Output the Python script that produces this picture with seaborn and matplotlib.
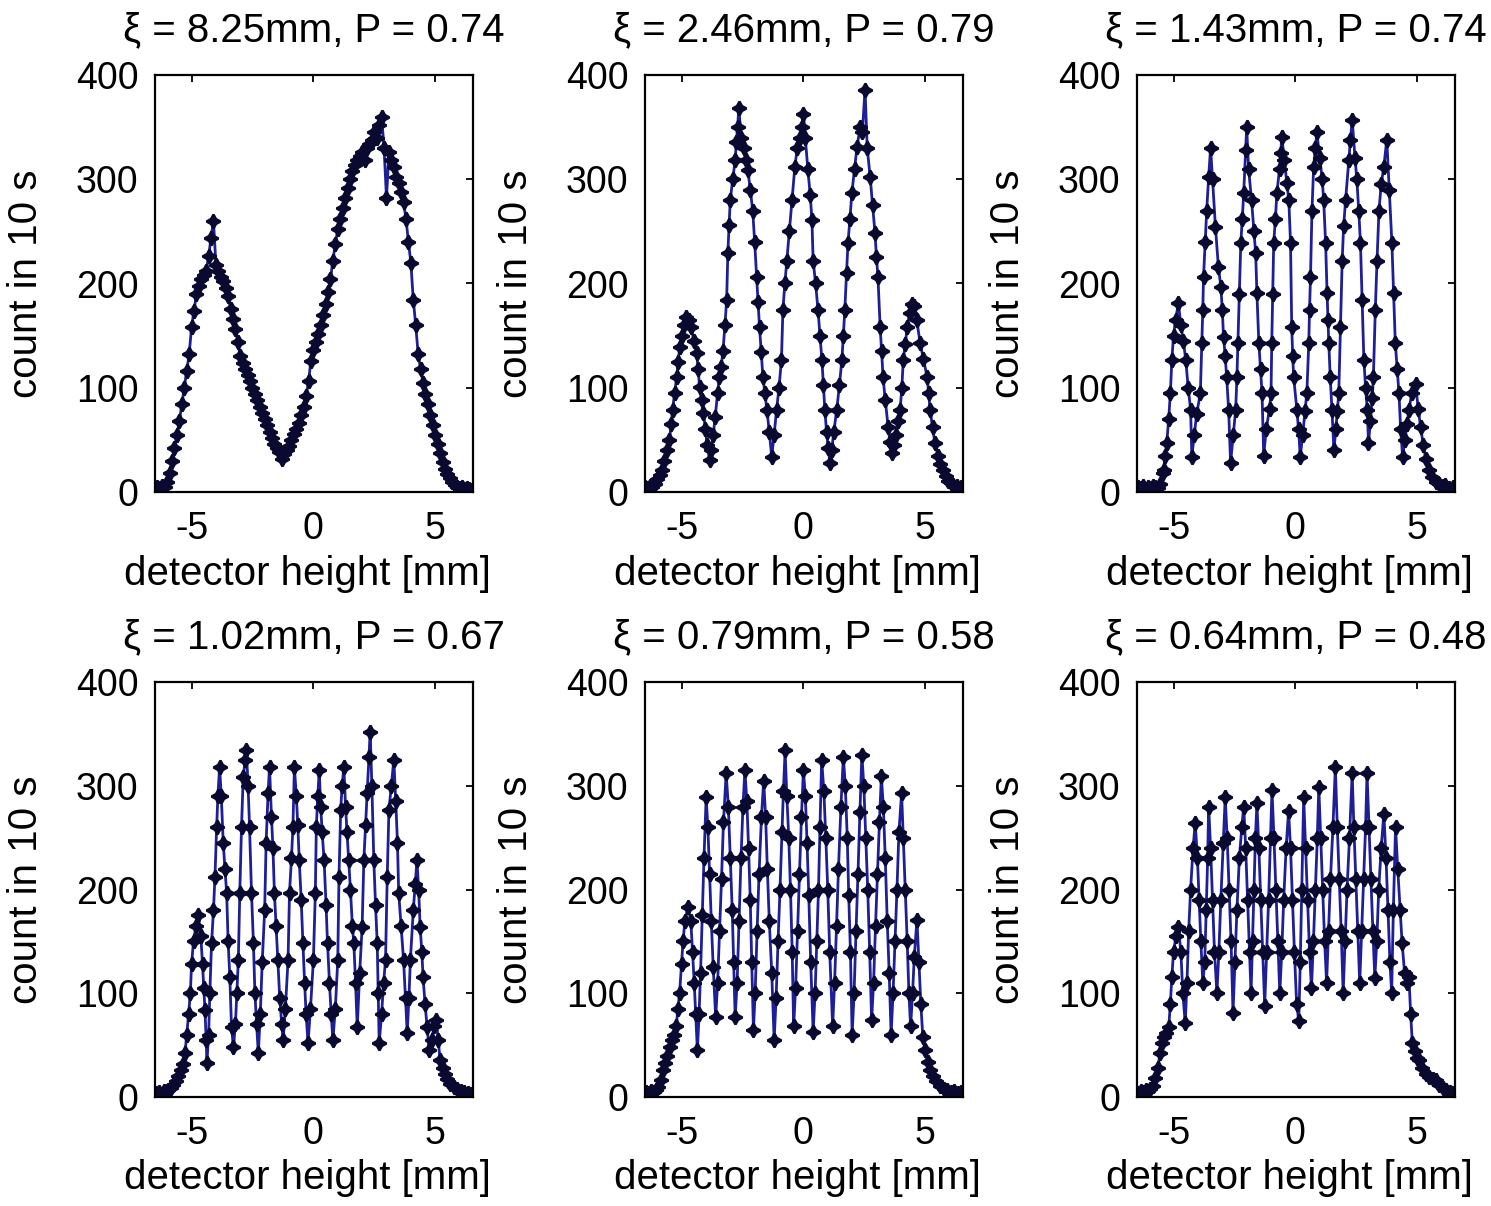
import matplotlib
matplotlib.use("Agg")
import matplotlib.pyplot as plt
import seaborn as sns

# Interference scans: detector height [mm] vs counts in 10 s
titles = [
    "ξ = 8.25mm, P = 0.74",
    "ξ = 2.46mm, P = 0.79",
    "ξ = 1.43mm, P = 0.74",
    "ξ = 1.02mm, P = 0.67",
    "ξ = 0.79mm, P = 0.58",
    "ξ = 0.64mm, P = 0.48",
]

x_p1 = [-6.40, -6.30, -6.20, -6.10, -6.00, -5.90, -5.80, -5.70, -5.60, -5.50, -5.40, -5.30, -5.20, -5.10,
        -5.00, -4.90, -4.80, -4.70, -4.60, -4.50, -4.40, -4.30, -4.20, -4.10, -4.00, -3.90, -3.80, -3.70,
        -3.60, -3.50, -3.40, -3.30, -3.20, -3.10, -3.00, -2.90, -2.80, -2.70, -2.60, -2.50, -2.40, -2.30,
        -2.20, -2.10, -2.00, -1.90, -1.80, -1.70, -1.60, -1.50, -1.40, -1.30, -1.20, -1.10, -1.00, -0.90,
        -0.80, -0.70, -0.60, -0.50, -0.40, -0.30, -0.20, -0.10, 0.00, 0.10, 0.20, 0.30, 0.40, 0.50,
        0.60, 0.70, 0.80, 0.90, 1.00, 1.10, 1.20, 1.30, 1.40, 1.50, 1.60, 1.70, 1.80, 1.90,
        2.00, 2.10, 2.20, 2.30, 2.40, 2.50, 2.60, 2.70, 2.80, 2.90, 3.00, 3.10, 3.20, 3.30,
        3.40, 3.50, 3.60, 3.70, 3.80, 3.90, 4.00, 4.10, 4.20, 4.30, 4.40, 4.50, 4.60, 4.70,
        4.80, 4.90, 5.00, 5.10, 5.20, 5.30, 5.40, 5.50, 5.60, 5.70, 5.80, 5.90, 6.00, 6.10,
        6.20, 6.30, 6.40, 6.50]
y_p1 = [5, 4, 6, 5, 10, 18, 30, 42, 55, 68, 84, 100, 116, 132,
        158, 174, 190, 198, 204, 208, 212, 226, 244, 260, 218, 212, 206, 202,
        196, 188, 176, 166, 156, 144, 130, 124, 118, 112, 106, 100, 94, 88,
        82, 76, 70, 64, 58, 52, 46, 42, 38, 32, 36, 40, 44, 50,
        56, 60, 66, 74, 82, 92, 106, 126, 136, 144, 152, 160, 170, 180,
        192, 204, 222, 238, 252, 262, 272, 282, 292, 300, 308, 314, 318, 322,
        326, 318, 330, 334, 338, 345, 340, 352, 360, 330, 282, 326, 318, 312,
        302, 296, 288, 278, 262, 240, 220, 184, 160, 132, 118, 105, 94, 84,
        74, 64, 55, 46, 37, 29, 22, 17, 13, 10, 7, 5, 4, 5,
        3, 4, 3, 2]

x_p2 = [-6.50, -6.40, -6.30, -6.20, -6.10, -6.00, -5.90, -5.80, -5.70, -5.60, -5.50, -5.42, -5.37, -5.28,
        -5.20, -5.14, -5.08, -5.00, -4.90, -4.80, -4.70, -4.60, -4.50, -4.38, -4.32, -4.26, -4.18, -4.10,
        -4.02, -3.95, -3.85, -3.78, -3.70, -3.62, -3.52, -3.45, -3.38, -3.30, -3.22, -3.15, -3.10, -3.05,
        -3.00, -2.90, -2.80, -2.75, -2.70, -2.65, -2.55, -2.45, -2.35, -2.28, -2.18, -2.08, -2.00, -1.92,
        -1.86, -1.80, -1.73, -1.66, -1.58, -1.50, -1.40, -1.30, -1.20, -1.10, -1.00, -0.90, -0.84, -0.76,
        -0.68, -0.58, -0.47, -0.35, -0.25, -0.15, -0.06, 0.00, 0.08, 0.18, 0.28, 0.35, 0.40, 0.50,
        0.60, 0.68, 0.76, 0.82, 0.88, 0.95, 1.02, 1.09, 1.16, 1.25, 1.37, 1.48, 1.58, 1.64,
        1.70, 1.77, 1.83, 1.91, 1.99, 2.10, 2.20, 2.33, 2.42, 2.53, 2.62, 2.74, 2.84, 2.94,
        3.00, 3.06, 3.15, 3.21, 3.27, 3.36, 3.48, 3.56, 3.64, 3.72, 3.80, 3.90, 3.97, 4.04,
        4.10, 4.18, 4.26, 4.36, 4.46, 4.55, 4.65, 4.79, 4.92, 5.08, 5.14, 5.20, 5.30, 5.40,
        5.52, 5.62, 5.74, 5.85, 5.95, 6.05, 6.15, 6.32, 6.45]
y_p2 = [5, 4, 6, 5, 8, 12, 16, 21, 30, 40, 50, 65, 79, 95,
        110, 125, 139, 150, 160, 168, 165, 158, 145, 133, 118, 101, 88, 76,
        60, 45, 31, 40, 55, 72, 95, 110, 120, 135, 160, 184, 229, 256,
        280, 300, 318, 336, 350, 368, 340, 330, 318, 309, 290, 270, 240, 206,
        182, 158, 134, 110, 95, 79, 58, 34, 55, 79, 100, 127, 175, 200,
        222, 250, 280, 312, 330, 340, 350, 363, 340, 310, 285, 261, 222, 200,
        175, 150, 127, 103, 79, 58, 42, 28, 40, 58, 79, 103, 127, 150,
        175, 210, 239, 262, 287, 310, 331, 350, 345, 386, 330, 302, 275, 248,
        225, 206, 158, 135, 110, 88, 62, 48, 37, 45, 55, 68, 79, 100,
        127, 142, 158, 172, 180, 178, 165, 143, 128, 110, 95, 79, 62, 47,
        35, 27, 21, 15, 11, 9, 7, 6, 5]

x_p3 = [-6.45, -6.35, -6.25, -6.15, -6.05, -5.95, -5.85, -5.75, -5.65, -5.55, -5.45, -5.41, -5.34, -5.28,
        -5.20, -5.13, -5.07, -5.00, -4.92, -4.80, -4.70, -4.60, -4.50, -4.40, -4.30, -4.25, -4.15, -4.05,
        -3.90, -3.84, -3.80, -3.77, -3.70, -3.64, -3.56, -3.48, -3.40, -3.28, -3.16, -3.06, -3.00, -2.95,
        -2.88, -2.82, -2.74, -2.66, -2.55, -2.45, -2.40, -2.36, -2.30, -2.24, -2.18, -2.12, -2.04, -2.00,
        -1.92, -1.80, -1.70, -1.63, -1.58, -1.50, -1.43, -1.37, -1.30, -1.20, -1.06, -1.00, -0.97, -0.93,
        -0.89, -0.82, -0.76, -0.65, -0.60, -0.56, -0.45, -0.35, -0.27, -0.20, -0.15, -0.11, -0.07, 0.06,
        0.13, 0.20, 0.30, 0.40, 0.47, 0.55, 0.58, 0.62, 0.68, 0.75, 0.82, 0.88, 1.00, 1.10,
        1.16, 1.24, 1.30, 1.34, 1.37, 1.43, 1.50, 1.58, 1.66, 1.72, 1.78, 1.85, 1.92, 1.98,
        2.06, 2.19, 2.26, 2.33, 2.45, 2.52, 2.60, 2.67, 2.74, 2.81, 2.88, 2.95, 3.00, 3.08,
        3.15, 3.20, 3.28, 3.35, 3.43, 3.52, 3.63, 3.75, 3.85, 3.96, 4.03, 4.10, 4.18, 4.25,
        4.32, 4.40, 4.50, 4.58, 4.66, 4.78, 4.93, 5.04, 5.14, 5.25, 5.35, 5.48, 5.62, 5.76,
        5.90, 6.05, 6.15, 6.30, 6.45]
y_p3 = [5, 4, 6, 3, 5, 4, 6, 5, 4, 8, 18, 21, 35, 47,
        70, 95, 127, 150, 165, 181, 160, 145, 127, 100, 79, 34, 55, 75,
        95, 143, 175, 206, 240, 270, 302, 330, 300, 254, 216, 197, 175, 149,
        130, 110, 79, 28, 55, 79, 110, 143, 190, 239, 262, 287, 328, 350,
        310, 280, 250, 229, 191, 143, 118, 95, 35, 60, 80, 95, 143, 190,
        239, 262, 287, 310, 325, 341, 318, 296, 280, 239, 158, 130, 110, 79,
        60, 34, 55, 78, 95, 143, 175, 206, 270, 312, 330, 345, 320, 300,
        280, 239, 191, 165, 143, 110, 79, 40, 60, 78, 95, 158, 222, 255,
        280, 318, 338, 357, 320, 300, 270, 239, 184, 127, 100, 79, 47, 68,
        90, 110, 175, 222, 270, 295, 312, 338, 290, 239, 191, 143, 118, 95,
        60, 34, 50, 65, 79, 95, 104, 80, 62, 45, 32, 21, 14, 10,
        8, 6, 7, 4, 5]

x_p4 = [-6.45, -6.35, -6.25, -6.15, -6.05, -5.95, -5.85, -5.75, -5.65, -5.55, -5.45, -5.35, -5.27, -5.20,
        -5.12, -5.05, -5.00, -4.92, -4.82, -4.72, -4.62, -4.55, -4.50, -4.45, -4.40, -4.37, -4.30, -4.25,
        -4.18, -4.10, -4.04, -3.97, -3.92, -3.85, -3.78, -3.70, -3.63, -3.56, -3.50, -3.43, -3.36, -3.28,
        -3.20, -3.14, -3.08, -3.02, -2.95, -2.88, -2.80, -2.75, -2.68, -2.62, -2.54, -2.46, -2.40, -2.33,
        -2.26, -2.18, -2.10, -2.00, -1.94, -1.86, -1.80, -1.72, -1.66, -1.60, -1.53, -1.46, -1.38, -1.30,
        -1.24, -1.15, -1.04, -0.98, -0.90, -0.84, -0.78, -0.70, -0.64, -0.58, -0.50, -0.43, -0.36, -0.30,
        -0.22, -0.12, 0.00, 0.08, 0.12, 0.18, 0.24, 0.30, 0.36, 0.44, 0.52, 0.58, 0.66, 0.73,
        0.80, 0.90, 1.00, 1.05, 1.12, 1.18, 1.25, 1.32, 1.38, 1.45, 1.52, 1.60, 1.66, 1.73,
        1.80, 1.90, 2.00, 2.07, 2.14, 2.20, 2.28, 2.33, 2.40, 2.48, 2.55, 2.62, 2.66, 2.70,
        2.80, 2.88, 2.96, 3.03, 3.10, 3.20, 3.30, 3.38, 3.45, 3.50, 3.60, 3.70, 3.78, 3.85,
        3.92, 3.98, 4.10, 4.18, 4.25, 4.32, 4.38, 4.45, 4.50, 4.58, 4.67, 4.75, 4.85, 4.95,
        5.05, 5.12, 5.20, 5.30, 5.40, 5.50, 5.60, 5.75, 5.90, 6.05, 6.20, 6.35, 6.48]
y_p4 = [4, 5, 3, 6, 5, 7, 9, 12, 15, 20, 26, 32, 42, 60,
        80, 100, 128, 150, 165, 175, 155, 128, 105, 84, 55, 33, 60, 100,
        148, 180, 212, 260, 290, 318, 290, 245, 220, 197, 150, 116, 67, 48,
        70, 100, 132, 197, 260, 308, 325, 334, 300, 260, 197, 148, 100, 70,
        42, 80, 130, 180, 245, 293, 318, 270, 240, 197, 165, 132, 95, 70,
        55, 85, 132, 197, 230, 260, 318, 290, 262, 228, 190, 148, 110, 80,
        52, 85, 132, 197, 260, 290, 315, 280, 255, 228, 185, 148, 110, 80,
        55, 85, 132, 212, 277, 300, 318, 280, 255, 228, 200, 165, 148, 110,
        67, 120, 164, 228, 262, 293, 328, 352, 300, 228, 185, 148, 100, 52,
        80, 110, 132, 212, 277, 300, 325, 285, 245, 197, 165, 132, 95, 62,
        95, 132, 180, 205, 228, 200, 164, 140, 116, 90, 67, 45, 55, 68,
        74, 55, 36, 28, 22, 17, 13, 10, 8, 6, 5, 4, 3]

x_p5 = [-6.45, -6.35, -6.25, -6.15, -6.05, -5.95, -5.85, -5.78, -5.68, -5.58, -5.49, -5.40, -5.30, -5.22,
        -5.15, -5.08, -5.00, -4.94, -4.86, -4.74, -4.62, -4.55, -4.48, -4.42, -4.35, -4.28, -4.22, -4.15,
        -4.08, -3.99, -3.92, -3.85, -3.78, -3.70, -3.60, -3.52, -3.44, -3.36, -3.28, -3.17, -3.08, -3.00,
        -2.92, -2.86, -2.80, -2.72, -2.64, -2.56, -2.48, -2.40, -2.32, -2.25, -2.18, -2.12, -2.05, -1.98,
        -1.90, -1.82, -1.72, -1.63, -1.55, -1.48, -1.40, -1.30, -1.20, -1.12, -1.04, -0.96, -0.88, -0.82,
        -0.75, -0.68, -0.60, -0.53, -0.46, -0.40, -0.32, -0.24, -0.16, -0.08, 0.00, 0.08, 0.15, 0.22,
        0.30, 0.40, 0.48, 0.55, 0.62, 0.68, 0.75, 0.84, 0.92, 1.00, 1.08, 1.20, 1.28, 1.36,
        1.44, 1.54, 1.64, 1.72, 1.80, 1.86, 1.93, 2.00, 2.08, 2.16, 2.24, 2.32, 2.40, 2.48,
        2.56, 2.64, 2.72, 2.80, 2.88, 2.96, 3.04, 3.12, 3.20, 3.28, 3.36, 3.44, 3.52, 3.60,
        3.68, 3.76, 3.84, 3.92, 4.03, 4.10, 4.18, 4.26, 4.33, 4.40, 4.48, 4.55, 4.66, 4.74,
        4.82, 4.90, 5.00, 5.10, 5.20, 5.32, 5.45, 5.60, 5.75, 5.90, 6.05, 6.20, 6.35, 6.48]
y_p5 = [5, 4, 6, 5, 7, 10, 16, 26, 33, 40, 48, 55, 60, 68,
        85, 100, 128, 150, 170, 183, 170, 140, 110, 80, 45, 80, 120, 175,
        230, 289, 260, 215, 170, 125, 77, 110, 160, 210, 265, 312, 280, 230,
        180, 130, 77, 110, 170, 230, 280, 315, 285, 240, 190, 130, 65, 100,
        160, 215, 270, 305, 270, 220, 170, 120, 55, 95, 150, 200, 255, 295,
        334, 290, 250, 200, 140, 68, 105, 160, 215, 270, 315, 290, 245, 195,
        130, 63, 100, 150, 200, 260, 325, 295, 250, 200, 140, 68, 110, 165,
        220, 280, 328, 300, 250, 195, 140, 60, 100, 160, 215, 275, 330, 300,
        250, 200, 140, 74, 110, 165, 215, 265, 309, 280, 230, 170, 120, 60,
        100, 150, 200, 255, 293, 250, 200, 150, 100, 68, 100, 135, 171, 130,
        90, 58, 45, 34, 26, 20, 15, 11, 8, 7, 5, 6, 4, 5]

x_p6 = [-6.45, -6.35, -6.25, -6.15, -6.05, -5.95, -5.85, -5.75, -5.65, -5.55, -5.49, -5.40, -5.30, -5.20,
        -5.13, -5.07, -5.00, -4.90, -4.80, -4.70, -4.62, -4.52, -4.45, -4.38, -4.30, -4.20, -4.11, -4.02,
        -3.95, -3.88, -3.80, -3.72, -3.66, -3.60, -3.56, -3.48, -3.40, -3.32, -3.22, -3.14, -3.06, -2.96,
        -2.88, -2.80, -2.72, -2.64, -2.56, -2.48, -2.40, -2.30, -2.20, -2.12, -2.04, -1.96, -1.88, -1.82,
        -1.76, -1.70, -1.64, -1.58, -1.50, -1.42, -1.34, -1.26, -1.18, -1.10, -1.02, -0.96, -0.88, -0.80,
        -0.72, -0.64, -0.56, -0.48, -0.38, -0.28, -0.20, -0.12, -0.04, 0.05, 0.14, 0.20, 0.26, 0.34,
        0.42, 0.50, 0.58, 0.66, 0.74, 0.82, 0.90, 0.96, 1.04, 1.12, 1.20, 1.28, 1.36, 1.44,
        1.54, 1.64, 1.72, 1.80, 1.88, 1.96, 2.04, 2.12, 2.22, 2.33, 2.40, 2.48, 2.56, 2.64,
        2.72, 2.80, 2.88, 2.94, 3.02, 3.10, 3.18, 3.26, 3.34, 3.42, 3.52, 3.63, 3.72, 3.80,
        3.88, 3.95, 4.02, 4.11, 4.20, 4.30, 4.38, 4.48, 4.58, 4.66, 4.73, 4.80, 4.90, 5.00,
        5.07, 5.20, 5.35, 5.50, 5.65, 5.76, 5.90, 6.05, 6.20, 6.33, 6.43]
y_p6 = [4, 6, 5, 7, 6, 8, 11, 18, 28, 42, 52, 58, 62, 67,
        90, 116, 140, 155, 164, 140, 100, 71, 110, 160, 200, 240, 264, 230,
        190, 150, 110, 130, 180, 230, 280, 240, 190, 140, 100, 140, 190, 245,
        289, 250, 200, 150, 81, 130, 180, 230, 260, 280, 240, 190, 140, 100,
        150, 200, 250, 283, 240, 190, 140, 88, 140, 190, 250, 296, 250, 200,
        150, 100, 140, 190, 240, 276, 240, 190, 140, 90, 73, 130, 200, 289,
        240, 190, 140, 105, 150, 200, 250, 299, 250, 200, 150, 110, 160, 210,
        260, 318, 260, 210, 160, 100, 150, 200, 250, 312, 260, 210, 160, 110,
        160, 210, 260, 312, 260, 210, 160, 115, 150, 200, 240, 273, 230, 180,
        130, 100, 180, 260, 220, 180, 148, 120, 110, 116, 80, 52, 44, 38,
        36, 28, 22, 19, 17, 16, 12, 9, 7, 5, 4]

x_series = [x_p1, x_p2, x_p3, x_p4, x_p5, x_p6]
y_series = [y_p1, y_p2, y_p3, y_p4, y_p5, y_p6]
x_ticks = [-5, 0, 5]
y_ticks = [0, 100, 200, 300, 400]

sns.set_theme(style="white")
plt.rcParams["font.family"] = ["Liberation Sans", "DejaVu Sans"]

W, H = 1491, 1206
fig = plt.figure(figsize=(W / 100, H / 100), dpi=100, facecolor="white")

col_left = [155, 645, 1137]
row_top = [75, 682]
row_bottom = [492, 1097]
ax_w = 318

line_color = "#1e1e96"
mark_color = "#0a0a30"

for i in range(6):
    r, c = divmod(i, 3)
    left = col_left[c] / W
    bottom = 1 - row_bottom[r] / H
    height = (row_bottom[r] - row_top[r]) / H
    ax = fig.add_axes([left, bottom, ax_w / W, height])
    sns.lineplot(x=x_series[i], y=y_series[i], ax=ax, sort=False, estimator=None,
                 color=line_color, linewidth=2.0, marker=(4, 1, 0), markersize=10,
                 markerfacecolor=mark_color, markeredgecolor=mark_color,
                 markeredgewidth=1.8)
    ax.set_xlim(-6.5, 6.55)
    ax.set_ylim(0, 400)
    ax.set_xticks(x_ticks)
    ax.set_yticks(y_ticks)
    ax.set_xticklabels([str(t) for t in x_ticks])
    ax.set_yticklabels([str(t) for t in y_ticks])
    ax.tick_params(axis="both", direction="in", top=True, right=True, length=5,
                   width=1.3, color="black", labelsize=27, labelcolor="black")
    ax.tick_params(axis="y", pad=12)
    ax.tick_params(axis="x", pad=14)
    for s in ax.spines.values():
        s.set_visible(True)
        s.set_color("black")
        s.set_linewidth(1.6)
    ax.set_title(titles[i], fontsize=29, pad=24, color="black")
    ax.set_xlabel("detector height [mm]", fontsize=29, color="black")
    ax.set_ylabel("count in 10 s", fontsize=29, color="black")
    ax.xaxis.set_label_coords(0.48, -0.15)
    ax.yaxis.set_label_coords(-0.345, 0.5)
    ax.grid(False)

fig.savefig("out.png", dpi=100, facecolor="white")
